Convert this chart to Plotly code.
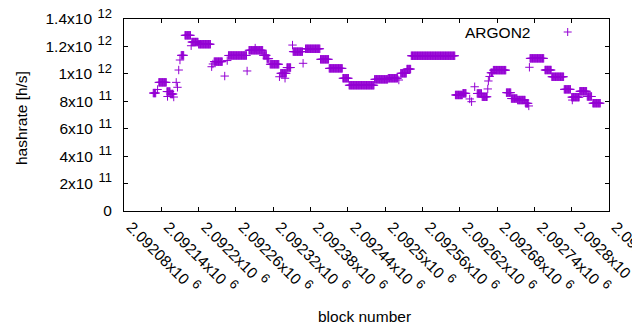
import plotly.graph_objects as go

# Data: runs of consecutive blocks sharing one hashrate value
run_first_block = [
    2092127, 2092134, 2092136, 2092149, 2092150, 2092155, 2092160, 2092164, 2092166, 2092168,
    2092170, 2092172, 2092178, 2092188, 2092189, 2092200, 2092221, 2092223, 2092225, 2092242,
    2092246, 2092248, 2092278, 2092281, 2092291, 2092304, 2092310, 2092315, 2092330, 2092332,
    2092339, 2092342, 2092351, 2092352, 2092368, 2092372, 2092396, 2092410, 2092432, 2092442,
    2092483, 2092505, 2092522, 2092525, 2092535, 2092542, 2092613, 2092625, 2092636, 2092639,
    2092644, 2092648, 2092656, 2092665, 2092666, 2092668, 2092670, 2092674, 2092695, 2092703,
    2092713, 2092726, 2092731, 2092732, 2092733, 2092757, 2092768, 2092788, 2092800, 2092801,
    2092813, 2092825, 2092834,
]
run_last_block = [
    2092131, 2092134, 2092148, 2092154, 2092150, 2092159, 2092160, 2092164, 2092166, 2092168,
    2092170, 2092176, 2092187, 2092188, 2092199, 2092219, 2092221, 2092223, 2092238, 2092242,
    2092246, 2092277, 2092278, 2092303, 2092291, 2092309, 2092313, 2092329, 2092330, 2092341,
    2092339, 2092348, 2092351, 2092367, 2092368, 2092395, 2092409, 2092431, 2092441, 2092482,
    2092504, 2092520, 2092522, 2092534, 2092541, 2092612, 2092624, 2092630, 2092636, 2092639,
    2092644, 2092655, 2092664, 2092665, 2092666, 2092668, 2092673, 2092694, 2092702, 2092712,
    2092725, 2092730, 2092731, 2092732, 2092755, 2092767, 2092787, 2092798, 2092812, 2092801,
    2092824, 2092832, 2092846,
]
run_hashrate = [
    8.60e11, 8.86e11, 9.38e11, 8.71e11, 8.35e11, 8.53e11, 8.31e11, 9.38e11, 9.02e11, 1.028e12,
    1.101e12, 1.135e12, 1.281e12, 1.205e12, 1.232e12, 1.216e12, 1.052e12, 1.072e12, 1.089e12, 9.84e11,
    1.097e12, 1.134e12, 1.021e12, 1.172e12, 1.188e12, 1.135e12, 1.111e12, 1.070e12, 9.79e11, 1.004e12,
    9.68e11, 1.046e12, 1.210e12, 1.162e12, 1.077e12, 1.183e12, 1.106e12, 1.040e12, 9.68e11, 9.17e11,
    9.60e11, 9.68e11, 9.55e11, 1.004e12, 1.035e12, 1.132e12, 8.46e11, 8.58e11, 8.17e11, 7.97e11,
    9.06e11, 8.57e11, 8.33e11, 8.90e11, 9.48e11, 9.81e11, 1.008e12, 1.027e12, 8.63e11, 8.20e11,
    8.09e11, 7.85e11, 7.66e11, 1.048e12, 1.113e12, 1.028e12, 9.79e11, 8.87e11, 8.30e11, 8.09e11,
    8.73e11, 8.35e11, 7.86e11,
]

x_tick_vals = [2092080 + 60 * i for i in range(14)]
x_tick_labels = ["2.09208", "2.09214", "2.0922", "2.09226", "2.09232", "2.09238", "2.09244",
                 "2.0925", "2.09256", "2.09262", "2.09268", "2.09274", "2.0928", "2.09286"]
y_tick_vals = [0, 2e11, 4e11, 6e11, 8e11, 1e12, 1.2e12, 1.4e12]
y_tick_mantissa = ["0", "2", "4", "6", "8", "1", "1.2", "1.4"]
y_tick_exponent = ["", "11", "11", "11", "11", "12", "12", "12"]

series_name = "ARGON2"
color = "#9400D3"

# decode the runs (one point per block)
blocks, rates = [], []
for a, b, v in zip(run_first_block, run_last_block, run_hashrate):
    for blk in range(a, b + 1):
        blocks.append(blk)
        rates.append(v)

def sci(m, e):
    if not e:
        return m
    return m + "x10&nbsp;<sup><span style='font-size:13px'>&#8202;" + e + "</span></sup>"

FONT = "Liberation Sans, Arial, sans-serif"
# page has an 8px body margin: compensate so the plot frame lands at x 124..609, y 19..211
OFF = 8
PL, PR, PT, PB = 124, 609, 19, 211
W, H = 640 - OFF, 330 - OFF
L, T = PL - OFF, PT - OFF
R, B = 640 - PR, 330 - PB
pw, ph = PR - PL, PB - PT

def px(xp):
    return (xp - PL) / pw

def py(yp):
    return (PB - yp) / ph

fig = go.Figure()
fig.add_trace(go.Scatter(
    x=blocks, y=rates, mode="markers", name=series_name, showlegend=False,
    marker=dict(symbol="cross-thin", size=6, line=dict(color=color, width=1), color=color),
))

axis_common = dict(
    showline=True, linecolor="black", linewidth=1, mirror="ticks",
    ticks="inside", ticklen=4, tickwidth=1, tickcolor="black",
    showgrid=False, zeroline=False, automargin=False, ticklabeloverflow="allow",
    tickfont=dict(family=FONT, size=15.5, color="black"),
)

fig.update_layout(
    width=W, height=H,
    margin=dict(l=L, r=R, t=T, b=B, autoexpand=False),
    paper_bgcolor="white", plot_bgcolor="white",
    font=dict(family=FONT, size=15.5, color="black"),
    xaxis=dict(range=[2092080, 2092860], tickvals=x_tick_vals,
               ticktext=[sci(t, "6") for t in x_tick_labels],
               tickangle=45, ticklabelshift=7, **axis_common),
    yaxis=dict(range=[0, 1.4e12], tickvals=y_tick_vals,
               ticktext=[sci(m, e) for m, e in zip(y_tick_mantissa, y_tick_exponent)],
               ticklabelstandoff=8, **axis_common),
    annotations=[
        dict(text="hashrate [h/s]", xref="paper", yref="paper", x=px(21), y=py(118),
             textangle=-90, showarrow=False, font=dict(family=FONT, size=15.5),
             xanchor="center", yanchor="middle"),
        dict(text="block number", xref="paper", yref="paper", x=px(364), y=py(316),
             showarrow=False, font=dict(family=FONT, size=15.5),
             xanchor="center", yanchor="middle"),
        dict(text=series_name, xref="paper", yref="paper", x=px(531.5), y=py(32),
             showarrow=False, font=dict(family=FONT, size=15.5),
             xanchor="right", yanchor="middle"),
    ],
    shapes=[
        dict(type="line", xref="paper", yref="paper", x0=px(563.7), x1=px(571.7),
             y0=py(32), y1=py(32), line=dict(color=color, width=1)),
        dict(type="line", xref="paper", yref="paper", x0=px(567.7), x1=px(567.7),
             y0=py(28), y1=py(36), line=dict(color=color, width=1)),
    ],
)

fig.write_html("out.html")
